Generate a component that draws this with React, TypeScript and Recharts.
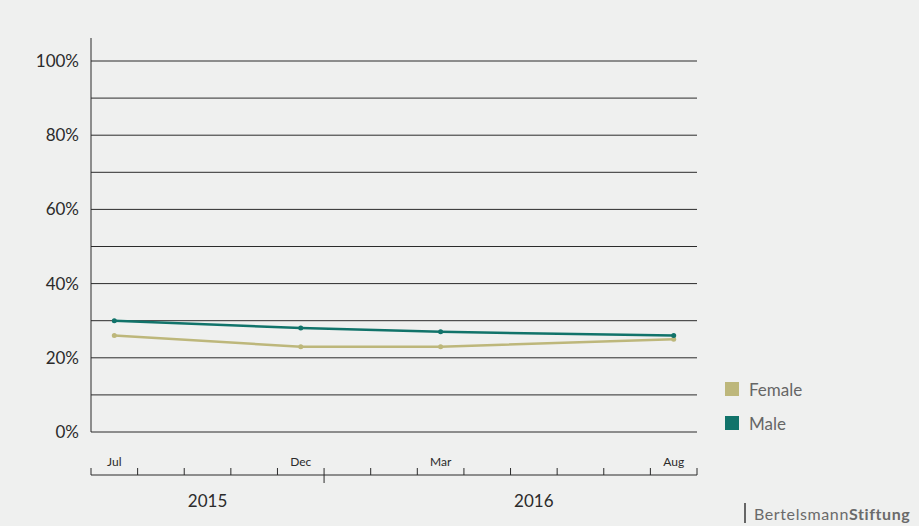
import { LineChart, Line, XAxis, YAxis, CartesianGrid, Legend } from 'recharts'

// Survey waves, placed on a month slot scale (slot 0 = first month shown)
const waveLabels = ['Jul', 'Dec', 'Mar', 'Aug']
const waveSlots = [0.5, 4.5, 7.5, 12.5]
const femaleShare = [26, 23, 23, 25]
const maleShare = [30, 28, 27, 26]

const monthBoundaries = [0, 1, 2, 3, 4, 5, 6, 7, 8, 9, 10, 11, 12, 13]
const yearBoundary = 5
const yearLabels = ['2015', '2016']
const yearSlots = [2.5, 9.5]
const percentTicks = [0, 10, 20, 30, 40, 50, 60, 70, 80, 90, 100]

const FEMALE = '#bdb77b'
const MALE = '#11736a'
const BG = '#eff0ef'
const INK = '#2b2b2b'
const FONT = 'Lato, "Open Sans", sans-serif'

const data = waveSlots.map((slot, i) => ({
  slot,
  label: waveLabels[i],
  female: femaleShare[i],
  male: maleShare[i],
}))

const legendItems = [
  { name: 'Female', color: FEMALE },
  { name: 'Male', color: MALE },
]

function MonthTick({ x, y, payload }: any) {
  const long = payload.value === yearBoundary
  return <line x1={x} x2={x} y1={y - 7} y2={long ? y + 8 : y} stroke={INK} strokeWidth={1} />
}

function WaveTick({ x, y, payload }: any) {
  const i = waveSlots.indexOf(payload.value)
  return (
    <text x={x} y={y} dy="0.71em" textAnchor="middle" fontSize={12} fill={INK} fontFamily={FONT}>
      {waveLabels[i]}
    </text>
  )
}

function YearTick({ x, y, payload }: any) {
  const i = yearSlots.indexOf(payload.value)
  return (
    <text x={x} y={y} dy="0.71em" textAnchor="middle" fontSize={17} fill={INK} fontFamily={FONT}>
      {yearLabels[i]}
    </text>
  )
}

// only horizontal rules; skip anything that is not a flat line
function GridLine(p: any) {
  if (p.y1 !== p.y2) return <g key={p.key} />
  return <line key={p.key} x1={p.x1} y1={p.y1} x2={p.x2} y2={p.y2} stroke={INK} strokeWidth={1} />
}

function LegendBox() {
  return (
    <div style={{ fontFamily: FONT }}>
      {legendItems.map((it) => (
        <div key={it.name} style={{ display: 'flex', alignItems: 'center', height: 34 }}>
          <span style={{ width: 14, height: 14, background: it.color, marginRight: 10 }} />
          <span style={{ fontSize: 17, color: '#666' }}>{it.name}</span>
        </div>
      ))}
    </div>
  )
}

export default function App() {
  return (
    <div style={{ position: 'fixed', inset: 0, background: BG, width: 919, height: 526 }}>
      <LineChart
        width={919}
        height={526}
        data={data}
        margin={{ top: 38, right: 222, bottom: 9, left: 0 }}
      >
        <CartesianGrid vertical={false} stroke="none" horizontal={GridLine} syncWithTicks />
        <YAxis
          type="number"
          domain={[0, 106.2]}
          ticks={percentTicks}
          width={91}
          axisLine={{ stroke: INK }}
          tickLine={false}
          tickSize={0}
          tickMargin={12}
          tickFormatter={(v: number) => (v % 20 === 0 ? `${v}%` : '')}
          tick={{ fontSize: 17, fill: INK, fontFamily: FONT }}
          allowDataOverflow
        />
        {/* bottom axes stack in id order: wave labels, month ruler, years */}
        <XAxis
          xAxisId="a-wave"
          dataKey="slot"
          type="number"
          domain={[0, 13]}
          ticks={waveSlots}
          height={43}
          axisLine={false}
          tickLine={false}
          tickSize={0}
          tickMargin={25}
          tick={<WaveTick />}
          allowDataOverflow
        />
        <XAxis
          xAxisId="b-month"
          dataKey="slot"
          type="number"
          domain={[0, 13]}
          ticks={monthBoundaries}
          height={12}
          axisLine={{ stroke: INK }}
          tickLine={false}
          tickSize={0}
          tickMargin={0}
          tick={<MonthTick />}
          interval={0}
          allowDataOverflow
        />
        <XAxis
          xAxisId="c-year"
          dataKey="slot"
          type="number"
          domain={[0, 13]}
          ticks={yearSlots}
          height={30}
          axisLine={false}
          tickLine={false}
          tickSize={0}
          tickMargin={8}
          tick={<YearTick />}
          allowDataOverflow
        />
        <Legend
          layout="horizontal"
          verticalAlign="middle"
          align="center"
          content={<LegendBox />}
          wrapperStyle={{ position: 'absolute', left: 725, top: 372, width: 120 }}
        />
        <Line
          xAxisId="a-wave"
          type="linear"
          dataKey="female"
          name="Female"
          stroke={FEMALE}
          strokeWidth={2.5}
          dot={{ r: 2.5, fill: FEMALE, stroke: 'none' }}
          isAnimationActive={false}
        />
        <Line
          xAxisId="a-wave"
          type="linear"
          dataKey="male"
          name="Male"
          stroke={MALE}
          strokeWidth={2.5}
          dot={{ r: 2.5, fill: MALE, stroke: 'none' }}
          isAnimationActive={false}
        />
      </LineChart>
      <div
        style={{
          position: 'absolute',
          left: 744,
          top: 503,
          height: 20,
          borderLeft: '2px solid #666',
          paddingLeft: 8,
          fontFamily: FONT,
          fontSize: 16,
          lineHeight: '21px',
          letterSpacing: 0.6,
          color: '#6a6a6a',
          whiteSpace: 'nowrap',
        }}
      >
        Bertelsmann<b>Stiftung</b>
      </div>
    </div>
  )
}
